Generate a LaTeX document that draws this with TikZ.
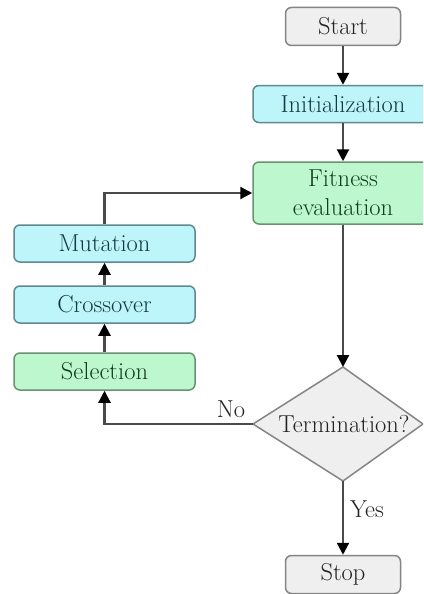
\documentclass[tikz,border=0pt]{standalone}
\usetikzlibrary{arrows.meta}

\definecolor{cyanfill}{HTML}{BDF5FB}
\definecolor{cyanedge}{HTML}{5E8A8E}
\definecolor{cyantext}{HTML}{143A44}
\definecolor{greenfill}{HTML}{BDF7CE}
\definecolor{greenedge}{HTML}{6A9272}
\definecolor{greentext}{HTML}{143D1F}
\definecolor{grayfill}{HTML}{EFEFEF}
\definecolor{grayedge}{HTML}{858585}
\definecolor{graytext}{HTML}{222222}
\definecolor{linegray}{HTML}{4A4A4A}

\begin{document}
\begin{tikzpicture}[x=1pt,y=-1pt,
  font=\fontsize{24.5}{29}\selectfont,
  box/.style={rectangle, rounded corners=6pt, line width=1.5pt, inner sep=0pt,
              align=center, minimum width=180, minimum height=37},
  cyanbox/.style={box, fill=cyanfill, draw=cyanedge, text=cyantext},
  greenbox/.style={box, fill=greenfill, draw=greenedge, text=greentext},
  graybox/.style={box, fill=grayfill, draw=grayedge, text=graytext, minimum width=115, minimum height=38},
  conn/.style={draw=linegray, line width=2.2pt, -{Triangle[length=12pt,width=12pt,fill=black,color=black]}},
  lbl/.style={text=graytext, inner sep=0pt}
]
\useasboundingbox (0,0) rectangle (423,594);
\clip (0,0) rectangle (423,594);
\fill[white] (0,0) rectangle (423,594);

% main column
\node[graybox]  (start) at (343,26.5) {Start};
\node[cyanbox]  (init)  at (343,104)  {Initialization};
\node[greenbox, minimum height=62] (fit) at (343,193) {Fitness\\evaluation};

% decision diamond
\coordinate (tT) at (343,367);
\coordinate (tR) at (423,424);
\coordinate (tB) at (343,481);
\coordinate (tL) at (253,424);
\draw[fill=grayfill, draw=grayedge, line width=1.5pt] (tT) -- (tR) -- (tB) -- (tL) -- cycle;
\node[text=graytext] (term) at (344,424) {Termination?};

\node[graybox] (stop) at (343,574.5) {Stop};

% genetic operators
\node[cyanbox, minimum width=181] (mut)   at (104.5,243.5) {Mutation};
\node[cyanbox, minimum width=181] (cross) at (104.5,304.5) {Crossover};
\node[greenbox, minimum width=181] (sel)  at (104.5,371.5) {Selection};

% connectors
\draw[conn] (start) -- (init);
\draw[conn] (init) -- (fit);
\draw[conn] (fit) -- (tT);
\draw[conn] (tB) -- (stop);
\draw[conn] (tL) -| (sel);
\draw[conn] (sel) -- (cross);
\draw[conn] (cross) -- (mut);
\draw[conn] (mut.north) |- (fit.west);

% branch labels
\node[lbl] (no)  at (231,409) {No};
\node[lbl] (yes) at (367,509) {Yes};
\end{tikzpicture}
\end{document}
